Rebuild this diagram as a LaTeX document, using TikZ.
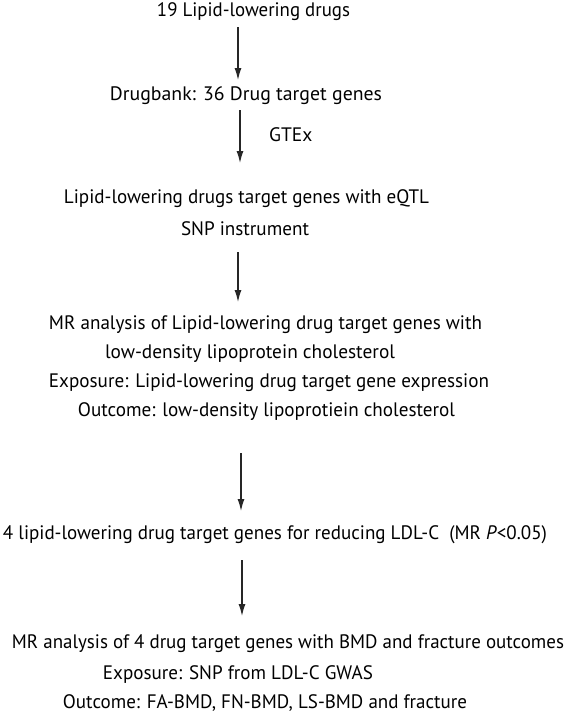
\documentclass[tikz,border=0pt]{standalone}
\usepackage{fontspec}
\usepackage{graphicx}
\setmainfont{PT Sans}
\usetikzlibrary{arrows.meta}
\newcommand{\fitto}[2]{\resizebox{#1pt}{\height}{#2}}
\begin{document}
\begin{tikzpicture}[x=1pt,y=-1pt,
  txt/.style={anchor=base,inner sep=0pt,font=\fontsize{19.5}{22}\selectfont,text=black},
  flow/.style={line width=1.2pt,black!85,-{Latex[length=12pt,width=7pt]}}]
\useasboundingbox (0,0) rectangle (567,716);
\node[txt] (t1) at (253.5,16) {\fitto{193}{19 Lipid-lowering drugs}};
\node[txt] (t2) at (246,100) {\fitto{272}{Drugbank: 36 Drug target genes}};
\node[txt,anchor=base west] (gtex) at (269,141) {GTEx};
\node[txt] (t3a) at (246.5,203) {\fitto{365}{Lipid-lowering drugs target genes with eQTL}};
\node[txt] (t3b) at (245,235) {\fitto{128}{SNP instrument}};
\node[txt] (t4a) at (265.5,329) {\fitto{433}{MR analysis of Lipid-lowering drug target genes with}};
\node[txt] (t4b) at (250,358) {\fitto{290}{low-density lipoprotein cholesterol}};
\node[txt] (t4c) at (269,387) {\fitto{440}{Exposure: Lipid-lowering drug target gene expression}};
\node[txt] (t4d) at (266.5,416) {\fitto{377}{Outcome: low-density lipoprotiein cholesterol}};
\node[txt] (t5) at (275,539) {\fitto{544}{4 lipid-lowering drug target genes for reducing LDL-C\ \ (MR \textit{P}<0.05)}};
\node[txt] (t6a) at (288,648) {\fitto{552}{MR analysis of 4 drug target genes with BMD and fracture outcomes}};
\node[txt] (t6b) at (238,679) {\fitto{270}{Exposure: SNP from LDL-C GWAS}};
\node[txt] (t6c) at (265,708) {\fitto{404}{Outcome: FA-BMD, FN-BMD, LS-BMD and fracture}};
\coordinate (a1s) at (238,27);  \coordinate (a1e) at (238,80);
\coordinate (a2s) at (240,110); \coordinate (a2e) at (240,163);
\coordinate (a3s) at (238,252); \coordinate (a3e) at (238,302);
\coordinate (a4s) at (241,453); \coordinate (a4e) at (241,511);
\coordinate (a5s) at (242,560); \coordinate (a5e) at (242,616);
\draw[flow] (a1s) -- (a1e);
\draw[flow] (a2s) -- (a2e);
\draw[flow] (a3s) -- (a3e);
\draw[flow] (a4s) -- (a4e);
\draw[flow] (a5s) -- (a5e);
\end{tikzpicture}
\end{document}
